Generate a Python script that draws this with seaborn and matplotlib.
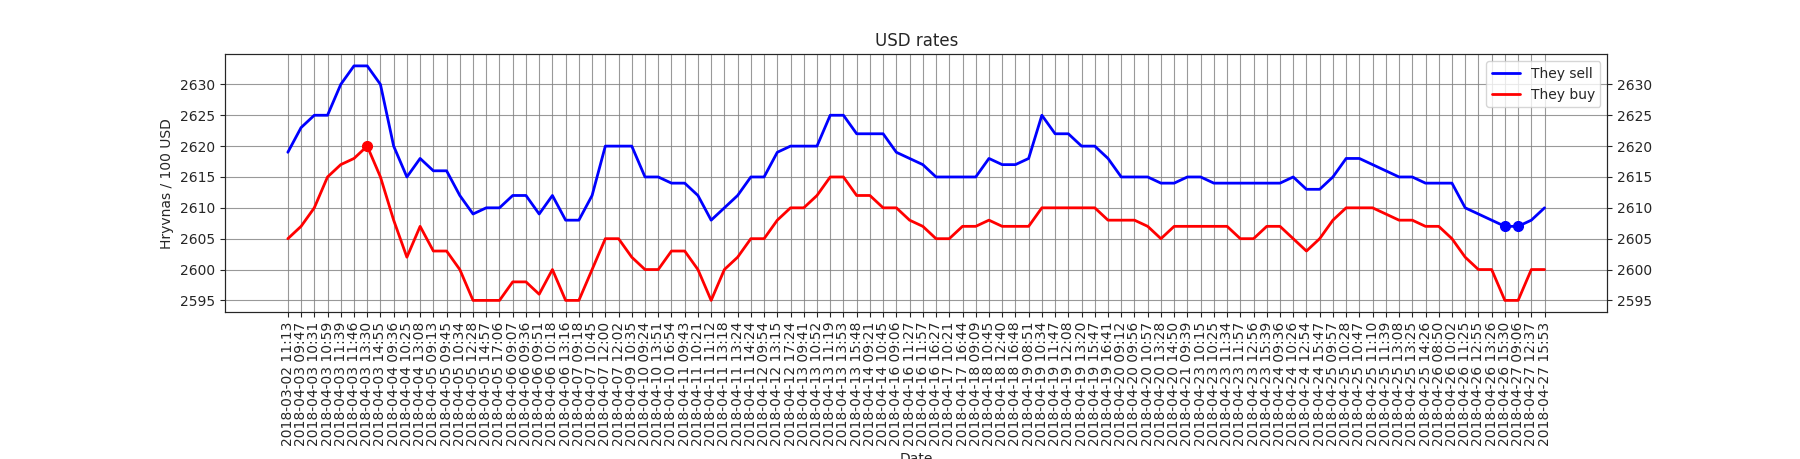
import matplotlib
matplotlib.use("Agg")
import matplotlib.pyplot as plt
import seaborn as sns
import pandas as pd

# Tick labels (dates of each quote)
dates = [
    "2018-03-02 11:13", "2018-04-03 09:47", "2018-04-03 10:31", "2018-04-03 10:59",
    "2018-04-03 11:39", "2018-04-03 11:46", "2018-04-03 13:30", "2018-04-03 14:55",
    "2018-04-04 09:36", "2018-04-04 10:25", "2018-04-04 13:08", "2018-04-05 09:13",
    "2018-04-05 09:45", "2018-04-05 10:34", "2018-04-05 12:28", "2018-04-05 14:57",
    "2018-04-05 17:06", "2018-04-06 09:07", "2018-04-06 09:36", "2018-04-06 09:51",
    "2018-04-06 10:18", "2018-04-06 13:16", "2018-04-07 09:18", "2018-04-07 10:45",
    "2018-04-07 12:00", "2018-04-07 12:02", "2018-04-09 10:35", "2018-04-10 09:24",
    "2018-04-10 13:51", "2018-04-10 16:54", "2018-04-11 09:43", "2018-04-11 10:21",
    "2018-04-11 11:12", "2018-04-11 13:18", "2018-04-11 13:24", "2018-04-11 14:24",
    "2018-04-12 09:54", "2018-04-12 13:15", "2018-04-12 17:24", "2018-04-13 09:41",
    "2018-04-13 10:52", "2018-04-13 11:19", "2018-04-13 13:53", "2018-04-13 15:48",
    "2018-04-14 09:21", "2018-04-14 10:45", "2018-04-16 09:06", "2018-04-16 11:27",
    "2018-04-16 11:57", "2018-04-16 16:27", "2018-04-17 10:21", "2018-04-17 16:44",
    "2018-04-18 09:09", "2018-04-18 10:45", "2018-04-18 12:40", "2018-04-18 16:48",
    "2018-04-19 08:51", "2018-04-19 10:34", "2018-04-19 11:47", "2018-04-19 12:08",
    "2018-04-19 13:20", "2018-04-19 15:47", "2018-04-19 16:41", "2018-04-20 09:12",
    "2018-04-20 09:56", "2018-04-20 10:57", "2018-04-20 13:28", "2018-04-20 14:50",
    "2018-04-21 09:39", "2018-04-23 10:15", "2018-04-23 10:25", "2018-04-23 11:34",
    "2018-04-23 11:57", "2018-04-23 12:56", "2018-04-23 15:39", "2018-04-24 09:36",
    "2018-04-24 10:26", "2018-04-24 12:54", "2018-04-24 15:47", "2018-04-25 09:57",
    "2018-04-25 10:28", "2018-04-25 10:47", "2018-04-25 11:10", "2018-04-25 11:39",
    "2018-04-25 13:08", "2018-04-25 13:25", "2018-04-25 14:26", "2018-04-26 08:50",
    "2018-04-26 10:02", "2018-04-26 11:25", "2018-04-26 12:55", "2018-04-26 13:26",
    "2018-04-26 15:30", "2018-04-27 09:06", "2018-04-27 12:37", "2018-04-27 15:53",
]

sell = [
    2619, 2623, 2625, 2625, 2630, 2633, 2633, 2630, 2620, 2615, 2618, 2616,
    2616, 2612, 2609, 2610, 2610, 2612, 2612, 2609, 2612, 2608, 2608, 2612,
    2620, 2620, 2620, 2615, 2615, 2614, 2614, 2612, 2608, 2610, 2612, 2615,
    2615, 2619, 2620, 2620, 2620, 2625, 2625, 2622, 2622, 2622, 2619, 2618,
    2617, 2615, 2615, 2615, 2615, 2618, 2617, 2617, 2618, 2625, 2622, 2622,
    2620, 2620, 2618, 2615, 2615, 2615, 2614, 2614, 2615, 2615, 2614, 2614,
    2614, 2614, 2614, 2614, 2615, 2613, 2613, 2615, 2618, 2618, 2617, 2616,
    2615, 2615, 2614, 2614, 2614, 2610, 2609, 2608, 2607, 2607, 2608, 2610,
]

buy = [
    2605, 2607, 2610, 2615, 2617, 2618, 2620, 2615, 2608, 2602, 2607, 2603,
    2603, 2600, 2595, 2595, 2595, 2598, 2598, 2596, 2600, 2595, 2595, 2600,
    2605, 2605, 2602, 2600, 2600, 2603, 2603, 2600, 2595, 2600, 2602, 2605,
    2605, 2608, 2610, 2610, 2612, 2615, 2615, 2612, 2612, 2610, 2610, 2608,
    2607, 2605, 2605, 2607, 2607, 2608, 2607, 2607, 2607, 2610, 2610, 2610,
    2610, 2610, 2608, 2608, 2608, 2607, 2605, 2607, 2607, 2607, 2607, 2607,
    2605, 2605, 2607, 2607, 2605, 2603, 2605, 2608, 2610, 2610, 2610, 2609,
    2608, 2608, 2607, 2607, 2605, 2602, 2600, 2600, 2595, 2595, 2600, 2600,
]

df = pd.DataFrame({"idx": range(len(dates)), "sell": sell, "buy": buy})

sns.set_style("ticks")
plt.rcParams["font.family"] = ["DejaVu Sans"]

fig, ax = plt.subplots(figsize=(18, 4.59), dpi=100)
fig.subplots_adjust(left=0.125, right=0.893, top=0.882, bottom=0.32)

sns.lineplot(data=df, x="idx", y="sell", color="blue", lw=2, label="They sell", ax=ax)
sns.lineplot(data=df, x="idx", y="buy", color="red", lw=2, label="They buy", ax=ax)

# Highlight best rates: lowest sell, highest buy
min_sell = df[df["sell"] == df["sell"].min()]
max_buy = df[df["buy"] == df["buy"].max()]
ax.plot(min_sell["idx"], min_sell["sell"], "o", color="blue", ms=7)
ax.plot(max_buy["idx"], max_buy["buy"], "o", color="red", ms=7)

ax.set_xticks(df["idx"])
ax.set_xticklabels(dates, rotation=90, fontsize=10)
yticks = list(range(2595, 2631, 5))
ax.set_yticks(yticks)
ax.grid(True, color="gray", alpha=0.8)
ax.set_title("USD rates", fontsize=12)
ax.set_xlabel("Date")
ax.set_ylabel("Hryvnas / 100 USD")
ax.legend(loc="upper right")
for s in ax.spines.values():
    s.set_visible(True)

ax2 = ax.twinx()
ax2.set_ylim(ax.get_ylim())
ax2.set_yticks(yticks)

fig.savefig("out.png")
